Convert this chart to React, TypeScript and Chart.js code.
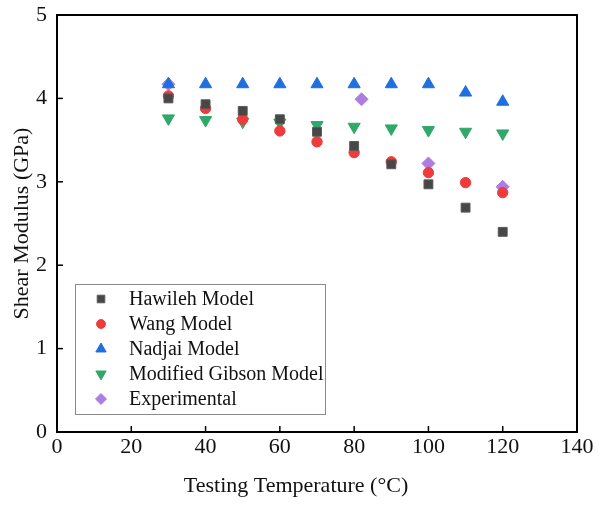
import React, { useEffect, useRef } from 'react';
import { Chart, registerables } from 'chart.js';
import { drawPoint } from 'chart.js/helpers';

Chart.register(...registerables);

const temps = [30, 40, 50, 60, 70, 80, 90, 100, 110, 120];
const hawileh = [4.0, 3.93, 3.85, 3.75, 3.6, 3.43, 3.21, 2.97, 2.69, 2.4];
const wang = [4.03, 3.88, 3.75, 3.61, 3.48, 3.35, 3.24, 3.11, 2.99, 2.87];
const nadjai = [4.17, 4.17, 4.17, 4.17, 4.17, 4.17, 4.17, 4.17, 4.07, 3.96];
const gibson = [3.76, 3.74, 3.72, 3.71, 3.68, 3.66, 3.64, 3.62, 3.6, 3.58];
const expTemps = [30, 82, 100, 120];
const experimental = [4.17, 3.99, 3.22, 2.94];

const seriesNames = ['Hawileh Model', 'Wang Model', 'Nadjai Model', 'Modified Gibson Model', 'Experimental'];
const xTitle = 'Testing Temperature (°C)';
const yTitle = 'Shear Modulus (GPa)';
const xMin = 0, xMax = 140, xStep = 20;
const yMin = 0, yMax = 5, yStep = 1;

const FONT = "'Liberation Serif', 'Times New Roman', serif";

const pts = (xs: number[], ys: number[]) => xs.map((x, i) => ({ x, y: ys[i] }));

const framePlugin = {
  id: 'frameAndLegend',
  afterDatasetsDraw(chart: any) {
    const { ctx, chartArea } = chart;
    const { left, right, top, bottom } = chartArea;
    ctx.save();
    // frame
    ctx.strokeStyle = '#000';
    ctx.lineWidth = 2;
    ctx.strokeRect(left, top, right - left, bottom - top);
    // inward ticks
    ctx.lineWidth = 1.5;
    const xs = chart.scales.x;
    const ys = chart.scales.y;
    xs.ticks.forEach((t: any) => {
      const px = xs.getPixelForValue(t.value);
      ctx.beginPath();
      ctx.moveTo(px, bottom);
      ctx.lineTo(px, bottom - 6);
      ctx.stroke();
    });
    ys.ticks.forEach((t: any) => {
      const py = ys.getPixelForValue(t.value);
      ctx.beginPath();
      ctx.moveTo(left, py);
      ctx.lineTo(left + 6, py);
      ctx.stroke();
    });
    // x axis title (centred on the figure, as in the reference)
    ctx.fillStyle = '#111';
    ctx.font = `22px ${FONT}`;
    ctx.textAlign = 'center';
    ctx.textBaseline = 'middle';
    ctx.fillText(xTitle, 296, 486);
    // legend box inside plot
    const bx = left + 18, by = top + 269, bw = 250, bh = 130;
    ctx.lineWidth = 1;
    ctx.strokeStyle = '#8a8a8a';
    ctx.strokeRect(bx + 0.5, by + 0.5, bw, bh);
    ctx.font = `20px ${FONT}`;
    ctx.textBaseline = 'middle';
    ctx.textAlign = 'left';
    chart.data.datasets.forEach((ds: any, i: number) => {
      const cy = by + 15 + i * 25;
      const mx = bx + 26;
      ctx.fillStyle = ds.backgroundColor;
      ctx.strokeStyle = ds.borderColor;
      ctx.lineWidth = 1;
      drawPoint(ctx, {
        pointStyle: ds.pointStyle,
        rotation: ds.rotation || 0,
        radius: ds.pointRadius * 0.85,
        borderWidth: 1,
      } as any, mx, cy);
      ctx.fillStyle = '#111';
      ctx.fillText(ds.label, bx + 54, cy + 1);
    });
    ctx.restore();
  },
};

export default function App() {
  const ref = useRef<HTMLCanvasElement>(null);
  useEffect(() => {
    if (!ref.current) return;
    const chart = new Chart(ref.current, {
      type: 'scatter',
      data: {
        datasets: [
          { label: seriesNames[0], data: pts(temps, hawileh), pointStyle: 'rect', pointRadius: 6.3, backgroundColor: '#474747', borderColor: '#5a5a5a', borderWidth: 1 },
          { label: seriesNames[1], data: pts(temps, wang), pointStyle: 'circle', pointRadius: 5.2, backgroundColor: '#ee3b3b', borderColor: '#ee3b3b', borderWidth: 1 },
          { label: seriesNames[2], data: pts(temps, nadjai), pointStyle: 'triangle', pointRadius: 7, backgroundColor: '#1e6fe0', borderColor: '#1e6fe0', borderWidth: 1 },
          { label: seriesNames[3], data: pts(temps, gibson), pointStyle: 'triangle', rotation: 180, pointRadius: 7, backgroundColor: '#2fa86a', borderColor: '#2fa86a', borderWidth: 1 },
          { label: seriesNames[4], data: pts(expTemps, experimental), pointStyle: 'rectRot', pointRadius: 6.5, backgroundColor: '#ad7de0', borderColor: '#ad7de0', borderWidth: 1 },
        ] as any,
      },
      options: {
        animation: false,
        responsive: false,
        devicePixelRatio: 1,
        layout: { padding: { top: 15, right: 23, left: 0, bottom: 0 } },
        plugins: { legend: { display: false }, tooltip: { enabled: false } },
        scales: {
          x: {
            type: 'linear',
            min: xMin,
            max: xMax,
            grid: { display: false, drawTicks: false },
            border: { display: false },
            ticks: { stepSize: xStep, color: '#111', font: { family: FONT, size: 22 }, padding: 2, maxRotation: 0 },
            title: { display: false },
            afterFit: (s: any) => { s.height = 75; s.paddingLeft = 0; s.paddingRight = 0; },
          },
          y: {
            type: 'linear',
            min: yMin,
            max: yMax,
            grid: { display: false, drawTicks: false },
            border: { display: false },
            ticks: { stepSize: yStep, color: '#111', font: { family: FONT, size: 22 }, padding: 10 },
            title: { display: true, text: yTitle, color: '#111', font: { family: FONT, size: 22 }, padding: { top: 9, bottom: 0 } },
            afterFit: (s: any) => { s.width = 57; s.paddingTop = 0; s.paddingBottom = 0; },
          },
        },
      },
      plugins: [framePlugin],
    });
    return () => chart.destroy();
  }, []);
  return (
    <div style={{ position: 'absolute', left: 0, top: 0, width: 600, height: 507, background: '#fff' }}>
      <canvas ref={ref} width={600} height={507} />
    </div>
  );
}
